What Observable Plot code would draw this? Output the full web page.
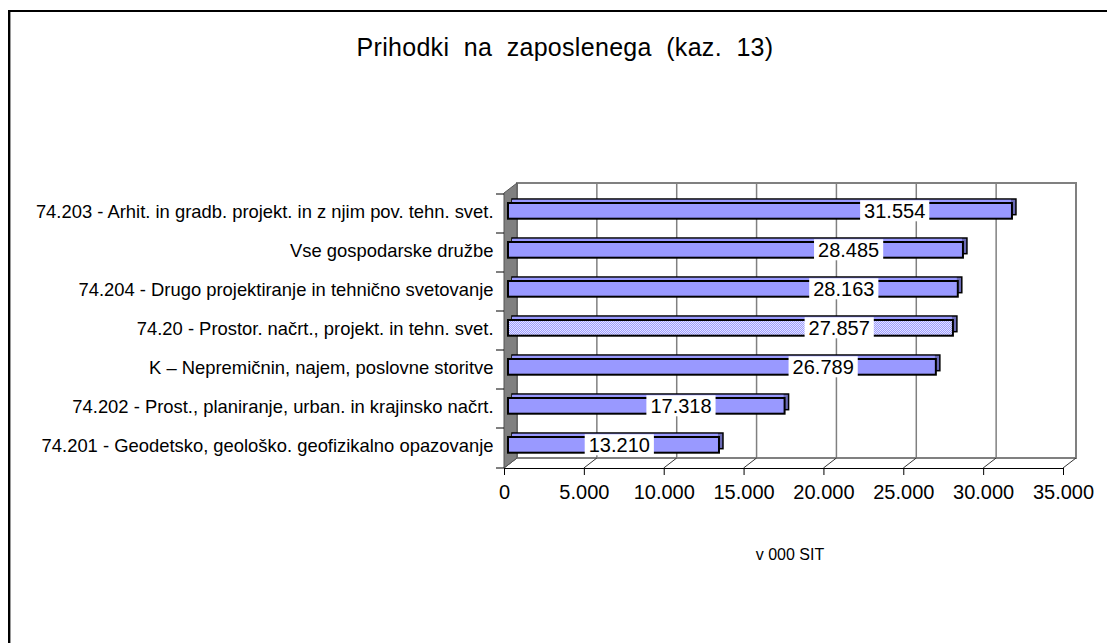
<!DOCTYPE html>
<html><head><meta charset="utf-8">
<script src="https://cdn.jsdelivr.net/npm/d3@7"></script>
<script src="https://cdn.jsdelivr.net/npm/@observablehq/plot@0.6"></script>
<style>
html,body{margin:0;padding:0;background:#fff;overflow:hidden;width:1107px;height:643px;}
#frame{position:absolute;left:8px;top:10px;width:1120px;height:660px;border-left:2px solid #000;border-top:2px solid #000;box-shadow:inset 1px 0 0 #9a9a9a;font-family:"Liberation Sans",Arial,sans-serif;color:#000;}
#title{position:absolute;left:0;top:21px;width:1110px;text-align:center;font-size:25px;line-height:28px;letter-spacing:0.3px;white-space:pre;}
#chart{position:absolute;left:0;top:148px;}
#caption{position:absolute;left:0;top:533px;width:1560px;text-align:center;font-size:16px;line-height:20px;}
</style>
</head><body>
<div id="frame">
  <div id="title"></div>
  <div id="chart"></div>
  <div id="caption"></div>
</div>
<script>
const categories = [
  "74.203 - Arhit. in gradb. projekt. in z njim pov. tehn. svet.",
  "Vse gospodarske družbe",
  "74.204 - Drugo projektiranje in tehnično svetovanje",
  "74.20 - Prostor. načrt., projekt. in tehn. svet.",
  "K – Nepremičnin, najem, poslovne storitve",
  "74.202 - Prost., planiranje, urban. in krajinsko načrt.",
  "74.201 - Geodetsko, geološko. geofizikalno opazovanje"
];
const values = [31554, 28485, 28163, 27857, 26789, 17318, 13210];
const patterned = [false, false, false, true, false, false, false];
const xTicks = [0, 5000, 10000, 15000, 20000, 25000, 30000, 35000];
const titleText = "Prihodki  na  zaposlenega  (kaz.  13)";
const axisLabel = "v 000 SIT";

document.getElementById("title").textContent = titleText;
document.getElementById("caption").textContent = axisLabel;

const loc = d3.formatLocale({decimal: ",", thousands: ".", grouping: [3], currency: ["", ""]});
const fmt = loc.format(",d");
const data = categories.map((c, i) => ({cat: c, value: values[i], pattern: patterned[i], label: fmt(values[i])}));

const W = 1097, H = 348, mL = 494, mR = 44, mT = 33, mB = 40;
const depthX = 13, depthY = 10;
const barDX = 4, barDepth = 4;
const inT = 9, inB = 14.3;

const plot = Plot.plot({
  width: W, height: H,
  marginLeft: mL, marginRight: mR, marginTop: mT, marginBottom: mB,
  style: {fontFamily: "Liberation Sans, Arial, sans-serif", fontSize: "18.4px", background: "transparent", color: "#000", overflow: "visible"},
  x: {domain: [0, 35000], ticks: xTicks, tickFormat: d => fmt(d), tickSize: 7, tickPadding: 9, line: true, label: null},
  y: {domain: categories, padding: 0, tickSize: 0, tickPadding: 11, label: null},
  marks: [
    Plot.barX(data, {y: "cat", x: "value", dx: barDX + barDepth, dy: -barDepth, insetTop: inT, insetBottom: inB, fill: "#6b6bb5", stroke: "#000", strokeWidth: 1.5}),
    Plot.barX(data, {y: "cat", x: "value", dx: barDX + barDepth, dy: -barDepth, insetTop: inT + 0.8, insetBottom: 39.29 - inT - barDepth, insetRight: barDepth + 1, fill: "#9999ff"}),
    Plot.barX(data.filter(d => !d.pattern), {y: "cat", x: "value", dx: barDX, insetTop: inT, insetBottom: inB, fill: "#9999ff", stroke: "#000", strokeWidth: 2}),
    Plot.barX(data.filter(d => d.pattern), {y: "cat", x: "value", dx: barDX, insetTop: inT, insetBottom: inB, fill: "url(#dots)", stroke: "#000", strokeWidth: 2}),
    Plot.text(data, {y: "cat", x: d => d.value * 0.94 - 5230, text: "label", fontSize: 20, dy: -2.6, fill: "#000"})
  ]
});
document.getElementById("chart").append(plot);
const svgEl = plot.tagName.toLowerCase() === "svg" ? plot : plot.querySelector("svg");
const svg = d3.select(svgEl);

// stippled pattern
const defs = svg.insert("defs", ":first-child");
const pat = defs.append("pattern").attr("id", "dots").attr("patternUnits", "userSpaceOnUse").attr("width", 2).attr("height", 2);
pat.append("rect").attr("width", 2).attr("height", 2).attr("fill", "#9d9dff");
pat.append("rect").attr("width", 1).attr("height", 1).attr("fill", "#e4e4ff");
pat.append("rect").attr("x", 1).attr("y", 1).attr("width", 1).attr("height", 1).attr("fill", "#e4e4ff");

// 3D decoration from scales
const xs = plot.scale("x"), ys = plot.scale("y");
const X = v => xs.apply(v);
const y0 = mT, y1 = H - mB;
const xL = X(0), xR = X(35000);
const deco = svg.insert("g", "g");
deco.append("path")
  .attr("d", `M${xL + depthX},${y1 - depthY}V${y0 - depthY}H${xR + depthX}V${y1 - depthY}H${xL + depthX}`)
  .attr("fill", "none").attr("stroke", "#808080").attr("stroke-width", 2);
xTicks.slice(1, -1).forEach(t => {
  deco.append("line").attr("x1", X(t) + depthX).attr("x2", X(t) + depthX)
    .attr("y1", y0 - depthY).attr("y2", y1 - depthY).attr("stroke", "#808080").attr("stroke-width", 1.5);
});
xTicks.forEach(t => {
  deco.append("line").attr("x1", X(t)).attr("y1", y1).attr("x2", X(t) + depthX).attr("y2", y1 - depthY)
    .attr("stroke", "#333").attr("stroke-width", 1);
});
deco.append("polygon")
  .attr("points", [[xL, y0], [xL, y1], [xL + depthX, y1 - depthY], [xL + depthX, y0 - depthY]].join(" "))
  .attr("fill", "#808080").attr("stroke", "#555").attr("stroke-width", 1);
const bounds = categories.map(c => ys.apply(c)).concat([y1]);
bounds.forEach(b => {
  deco.append("line").attr("x1", xL - 8).attr("x2", xL).attr("y1", b).attr("y2", b)
    .attr("stroke", "#000").attr("stroke-width", 1);
});

// tick label adjustments
svg.selectAll('[aria-label^="x-axis"] text').attr("font-size", 20);
svg.selectAll('[aria-label^="y-axis"] text').each(function() {
  const old = this.getAttribute("transform") || "";
  this.setAttribute("transform", (old + " translate(0,-2)").trim());
});

// white boxes behind value labels
const labelSet = new Set(data.map(d => d.label));
svg.selectAll("text").filter(function() { return labelSet.has(this.textContent); }).each(function() {
  const bb = this.getBBox();
  const cy = bb.y + bb.height / 2;
  const r = document.createElementNS("http://www.w3.org/2000/svg", "rect");
  r.setAttribute("x", bb.x - 4);
  r.setAttribute("width", bb.width + 8);
  r.setAttribute("y", cy - 10.5);
  r.setAttribute("height", 21);
  r.setAttribute("fill", "#fff");
  r.setAttribute("stroke", "none");
  const tr = this.getAttribute("transform");
  if (tr) r.setAttribute("transform", tr);
  this.parentNode.insertBefore(r, this);
});
</script>
</body></html>
